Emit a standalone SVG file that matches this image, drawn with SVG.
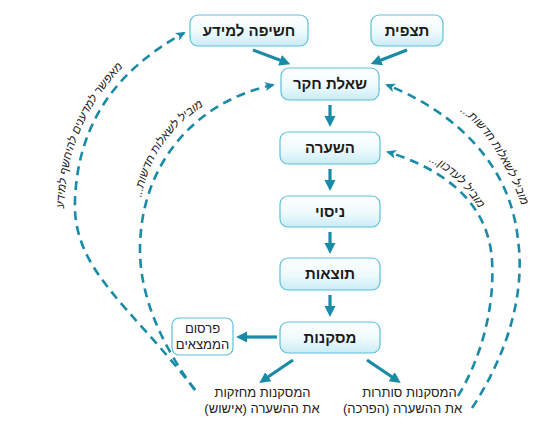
<svg xmlns="http://www.w3.org/2000/svg" width="544" height="431" viewBox="0 0 544 431">
<defs>
<linearGradient id="nodeFill" x1="0" y1="0" x2="0" y2="1">
<stop offset="0" stop-color="#ffffff"/>
<stop offset="0.55" stop-color="#eefafd"/>
<stop offset="1" stop-color="#c9ecf5"/>
</linearGradient>
<marker id="solidHead" markerUnits="userSpaceOnUse" markerWidth="12" markerHeight="12" refX="1" refY="6" orient="auto">
<path d="M0,0.5 L11,6 L0,11.5 z" fill="#1a8ba7"/>
</marker>
<marker id="dashHead" markerUnits="userSpaceOnUse" markerWidth="11" markerHeight="10" refX="8" refY="4.5" orient="auto">
<path d="M0,0 L10,4.5 L0,9 L2.5,4.5 z" fill="#1a8ba7"/>
</marker>
<path id="lblOuterLeft" d="M64,218 C64,160 80,108 130,60"/>
<path id="lblInnerLeft" d="M140,205 C146,165 165,128 210,102"/>
<path id="lblOuterRight" d="M454,108 C482,122 507,163 524,212"/>
<path id="lblInnerRight" d="M425,160 C445,167 465,185 481,212"/>
</defs>
<style>
.node rect { fill: url(#nodeFill); stroke: #5cc0d9; stroke-width: 1.2; }
.node text { font-family: "Liberation Sans", "DejaVu Sans", sans-serif; font-weight: bold; font-size: 15px; fill: #1a1a1a; text-anchor: middle; }
.small rect { fill: #ffffff; stroke: #5cc0d9; stroke-width: 1.2; }
.small text { font-family: "Liberation Sans", "DejaVu Sans", sans-serif; font-size: 13px; fill: #222; text-anchor: middle; }
.solid { stroke: #1a8ba7; stroke-width: 3.2; fill: none; marker-end: url(#solidHead); }
.dash { stroke: #1a8ba7; stroke-width: 2.6; fill: none; stroke-dasharray: 9 6; marker-end: url(#dashHead); }
.plain { font-family: "Liberation Sans", "DejaVu Sans", sans-serif; font-size: 13px; fill: #222; text-anchor: middle; }
.hand { font-family: "Liberation Sans", "DejaVu Sans", sans-serif; font-style: italic; font-size: 11.5px; fill: #222; }
</style>

<g id="connectors">
<line class="solid" x1="253" y1="50" x2="281" y2="60.6"/>
<line class="solid" x1="407" y1="50" x2="380" y2="60.5"/>
<line class="solid" x1="330" y1="105" x2="330" y2="117"/>
<line class="solid" x1="330" y1="169" x2="330" y2="181"/>
<line class="solid" x1="330" y1="232" x2="330" y2="244"/>
<line class="solid" x1="330" y1="295" x2="330" y2="307"/>
<line class="solid" x1="277" y1="337" x2="246" y2="337"/>
<line class="solid" x1="293" y1="360" x2="267.5" y2="377.3"/>
<line class="solid" x1="367" y1="360" x2="392.5" y2="377.3"/>
<path class="dash" d="M195,390 C130,305 72,270 75,200 C78,120 120,68 184,33"/>
<path class="dash" d="M195,390 C165,350 140,300 140,250 C140,160 200,100 273,85"/>
<path class="dash" d="M472,408 C510,350 525,290 518,240 C510,160 450,110 387,85"/>
<path class="dash" d="M458,396 C480,360 495,310 492,260 C488,200 440,168 388,152"/>
<text class="hand"><textPath href="#lblOuterLeft" startOffset="50%" text-anchor="middle">מאפשר למדענים להיחשף למידע</textPath></text>
<text class="hand"><textPath href="#lblInnerLeft" startOffset="50%" text-anchor="middle">...מוביל לשאלות חדשות</textPath></text>
<text class="hand"><textPath href="#lblOuterRight" startOffset="50%" text-anchor="middle">...מוביל לשאלות חדשות</textPath></text>
<text class="hand"><textPath href="#lblInnerRight" startOffset="50%" text-anchor="middle">...מוביל לעדכון</textPath></text>
</g>

<g id="node-exposure" class="node">
<rect x="190" y="15" width="118" height="31" rx="8"/>
<text x="249" y="36">חשיפה למידע</text>
</g>
<g id="node-observation" class="node">
<rect x="371" y="15" width="72" height="31" rx="8"/>
<text x="407" y="36">תצפית</text>
</g>
<g id="node-question" class="node">
<rect x="281" y="68" width="98" height="32" rx="8"/>
<text x="330" y="89">שאלת חקר</text>
</g>
<g id="node-hypothesis" class="node">
<rect x="280" y="132" width="100" height="32" rx="8"/>
<text x="330" y="153">השערה</text>
</g>
<g id="node-experiment" class="node">
<rect x="280" y="196" width="100" height="31" rx="8"/>
<text x="330" y="216.5">ניסוי</text>
</g>
<g id="node-results" class="node">
<rect x="280" y="258" width="100" height="32" rx="8"/>
<text x="330" y="279">תוצאות</text>
</g>
<g id="node-conclusions" class="node">
<rect x="280" y="322" width="100" height="31" rx="8"/>
<text x="330" y="342.5">מסקנות</text>
</g>
<g id="node-publication" class="small">
<rect x="172" y="318" width="61" height="37" rx="7"/>
<text x="202.5" y="333">פרסום</text>
<text x="202.5" y="349">הממצאים</text>
</g>
<g id="node-support">
<text class="plain" x="262.5" y="397">המסקנות מחזקות</text>
<text class="plain" x="262" y="413">את ההשערה (אישוש)</text>
</g>
<g id="node-refute">
<text class="plain" x="409.5" y="397">המסקנות סותרות</text>
<text class="plain" x="402.5" y="413">את ההשערה (הפרכה)</text>
</g>
</svg>
